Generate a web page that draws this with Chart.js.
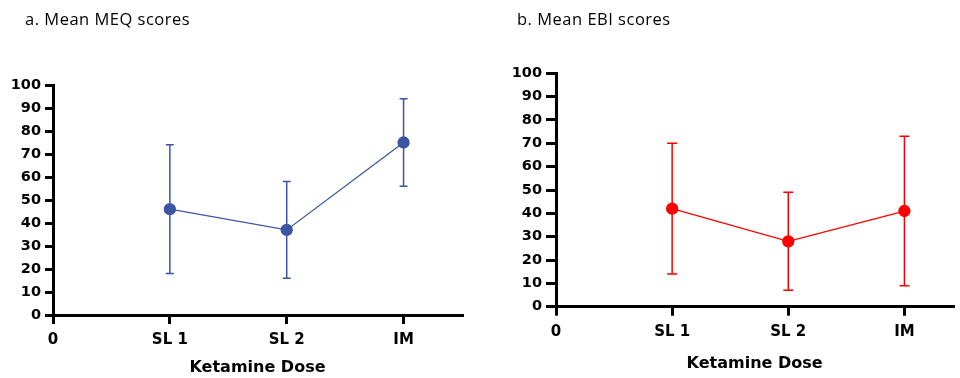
<!DOCTYPE html>
<html><head><meta charset="utf-8">
<script src="https://cdn.jsdelivr.net/npm/chart.js@4/dist/chart.umd.min.js"></script>
<style>
html,body{margin:0;padding:0;background:#fff;width:960px;height:378px;overflow:hidden}
.panel{position:absolute;top:0;width:480px;height:378px}
canvas{display:block}
</style></head><body>
<div class="panel" style="left:0"><canvas id="c1" width="480" height="378"></canvas></div>
<div class="panel" style="left:480px"><canvas id="c2" width="480" height="378"></canvas></div>
<script>
// ---- data ----
const tickLabels = ["0", "SL 1", "SL 2", "IM"];
const categories = ["SL 1", "SL 2", "IM"];
const meqMean = [46, 37, 75];
const meqLow  = [18, 16, 56];
const meqHigh = [74, 58, 94];
const ebiMean = [42, 28, 41];
const ebiLow  = [14, 7, 9];
const ebiHigh = [70, 49, 73];
const axisTitle = "Ketamine Dose";

// panel caption (a. / b.) drawn on the chart canvas
const panelTitle = {
  id: 'panelTitle',
  afterDraw(chart, args, opts) {
    const ctx = chart.ctx;
    ctx.save();
    ctx.letterSpacing = opts.spacing + 'px';
    ctx.font = opts.size + 'px "Open Sans"';
    ctx.fillStyle = '#000';
    ctx.textAlign = 'left';
    ctx.textBaseline = 'alphabetic';
    ctx.fillText(opts.text, opts.x, opts.y);
    ctx.restore();
  }
};

const errorBars = {
  id: 'errorBars',
  beforeDatasetsDraw(chart, args, opts) {
    const {ctx, scales: {x, y}} = chart;
    ctx.save();
    ctx.strokeStyle = opts.color;
    ctx.lineWidth = 1.5;
    opts.low.forEach((lo, i) => {
      const px = x.getPixelForValue(i + 1);
      const yl = y.getPixelForValue(lo);
      const yh = y.getPixelForValue(opts.high[i]);
      ctx.beginPath();
      ctx.moveTo(px, yl); ctx.lineTo(px, yh);
      ctx.moveTo(px - opts.cap, yl); ctx.lineTo(px + opts.cap, yl);
      ctx.moveTo(px - opts.cap, yh); ctx.lineTo(px + opts.cap, yh);
      ctx.stroke();
    });
    ctx.restore();
  }
};

function makeChart(id, cfg) {
  const pts = categories.map((c, i) => ({x: i + 1, y: cfg.mean[i]}));
  return new Chart(document.getElementById(id), {
    type: 'line',
    data: {
      datasets: [{
        data: pts,
        borderColor: cfg.color,
        backgroundColor: cfg.color,
        pointBackgroundColor: cfg.color,
        pointBorderColor: cfg.color,
        pointRadius: 5.5,
        borderWidth: 1.3,
        tension: 0,
        fill: false
      }]
    },
    plugins: [panelTitle, errorBars],
    options: {
      responsive: false,
      animation: false,
      devicePixelRatio: 1,
      layout: {padding: cfg.padding},
      plugins: {
        legend: {display: false},
        tooltip: {enabled: false},
        title: {display: false},
        panelTitle: {text: cfg.title, x: cfg.titleX, y: 25, size: 16.5, spacing: 0.5},
        errorBars: {color: cfg.color, low: cfg.low, high: cfg.high, cap: cfg.cap}
      },
      scales: {
        x: {
          type: 'linear',
          min: 0,
          max: cfg.xmax,
          afterFit(s) { s.height = cfg.xHeight; },
          ticks: {
            stepSize: 1,
            includeBounds: false,
            autoSkip: false,
            maxRotation: 0,
            padding: 7,
            color: '#000',
            font: {family: 'DejaVu Sans', size: 15, weight: 'bold'},
            callback: (v) => tickLabels[v] !== undefined ? tickLabels[v] : ''
          },
          grid: {drawOnChartArea: false, drawTicks: true, tickLength: 9, color: '#000', lineWidth: 3},
          border: {display: true, color: '#000', width: 3},
          title: {
            display: true,
            text: axisTitle,
            color: '#000',
            font: {family: 'DejaVu Sans', size: 16, weight: 'bold'},
            padding: {top: 0, bottom: cfg.xTitlePad}
          }
        },
        y: {
          min: 0,
          max: 100,
          afterFit(s) { s.width = cfg.yWidth; },
          ticks: {
            stepSize: 10,
            padding: 4,
            color: '#000',
            font: {family: 'DejaVu Sans', size: 14.5, weight: 'bold'}
          },
          grid: {drawOnChartArea: false, drawTicks: true, tickLength: cfg.yTickLen, color: '#000', lineWidth: 3},
          border: {display: true, color: '#000', width: 3}
        }
      }
    }
  });
}

makeChart('c1', {
  title: 'a. Mean MEQ scores', titleX: 25, color: '#3b55a5',
  mean: meqMean, low: meqLow, high: meqHigh, cap: 4,
  padding: {left: 0, right: 18, top: 85, bottom: 0},
  xmax: 3.5, xHeight: 63, xTitlePad: 1, yWidth: 53, yTickLen: 8
});
makeChart('c2', {
  title: 'b. Mean EBI scores', titleX: 37, color: '#ff0000',
  mean: ebiMean, low: ebiLow, high: ebiHigh, cap: 5,
  padding: {left: 0, right: 0, top: 73.3, bottom: 0},
  xmax: 3.42, xHeight: 71.3, xTitlePad: 4.4, yWidth: 76, yTickLen: 10
});
</script>
</body></html>
